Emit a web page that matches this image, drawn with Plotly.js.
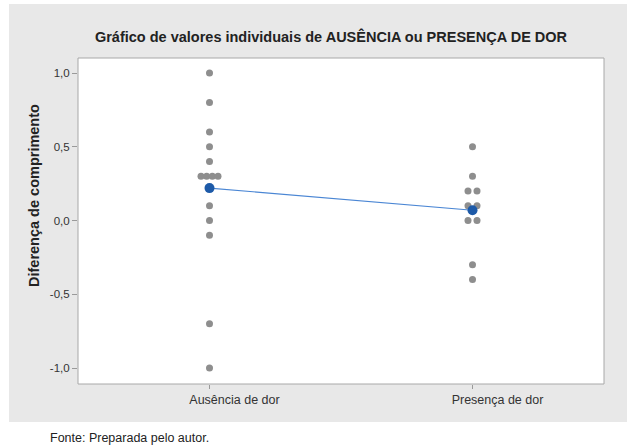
<!DOCTYPE html>
<html>
<head>
<meta charset="utf-8">
<script src="https://cdn.plot.ly/plotly-3.0.1.min.js"></script>
<style>html,body{margin:0;padding:0;background:#fff;}#chart{width:627px;height:448px;}</style>
</head>
<body>
<div id="chart"></div>
<script>
// ---- data ----
const categories = ["Ausência de dor", "Presença de dor"];
const ausenciaValues = [1.0, 0.8, 0.6, 0.5, 0.4, 0.3, 0.3, 0.3, 0.3, 0.1, 0.0, -0.1, -0.7, -1.0];
const presencaValues = [0.5, 0.3, 0.2, 0.2, 0.1, 0.1, 0.0, 0.0, -0.3, -0.4];
const meanValues = [0.22, 0.07];
const yTickVals = [-1.0, -0.5, 0.0, 0.5, 1.0];
const yTickText = ["-1,0", "-0,5", "0,0", "0,5", "1,0"];

// ---- layout constants ----
const W = 627, H = 448;
const M = {l: 78, r: 23, t: 58, b: 64};
const plotW = W - M.l - M.r, plotH = H - M.t - M.b;
const xRange = [-0.5, 1.5];
const pxPerUnit = plotW / (xRange[1] - xRange[0]);

// side-by-side placement of duplicated values (like the individual value plot)
function spread(values, center) {
  const xs = [], ys = [];
  const groups = {};
  values.forEach(v => { const k = v.toFixed(3); (groups[k] = groups[k] || []).push(v); });
  Object.keys(groups).forEach(k => {
    const g = groups[k], n = g.length;
    const sp = n > 1 ? Math.min(9, 17 / (n - 1)) : 0;
    g.forEach((v, i) => {
      xs.push(center + (i - (n - 1) / 2) * sp / pxPerUnit);
      ys.push(v);
    });
  });
  return {xs, ys};
}
const a = spread(ausenciaValues, 0);
const p = spread(presencaValues, 1);

const dotStyle = {color: "#8e8e8e", size: 7};
const traces = [
  {x: a.xs, y: a.ys, type: "scatter", mode: "markers", marker: dotStyle, hoverinfo: "y"},
  {x: p.xs, y: p.ys, type: "scatter", mode: "markers", marker: dotStyle, hoverinfo: "y"},
  {x: [0, 1], y: meanValues, type: "scatter", mode: "lines+markers",
   line: {color: "#4a86d4", width: 1.2},
   marker: {color: "#1d5aa8", size: 10}}
];

const fx = px => (px - M.l) / plotW;
const fy = py => (H - M.b - py) / plotH;

const layout = {
  width: W, height: H,
  margin: M,
  paper_bgcolor: "#ffffff",
  plot_bgcolor: "#ffffff",
  showlegend: false,
  font: {family: "Liberation Sans, Arial, sans-serif", color: "#333333", size: 11},
  title: {
    text: "<b>Gráfico de valores individuais de AUSÊNCIA ou PRESENÇA DE DOR</b>",
    font: {size: 14.5, color: "#222222", family: "Liberation Sans, Arial, sans-serif"},
    x: 331 / W, xanchor: "center",
    y: 1 - 37 / H, yanchor: "middle", xref: "container", yref: "container"
  },
  xaxis: {
    range: xRange, tickvals: [0, 1], ticktext: categories,
    showgrid: false, zeroline: false, showline: false,
    ticks: "outside", ticklen: 4, tickcolor: "#9a9a9a",
    ticklabelshift: 25,
    tickfont: {size: 12.5, color: "#333333"}, fixedrange: true
  },
  yaxis: {
    range: [-1.108, 1.102], tickvals: yTickVals, ticktext: yTickText,
    showgrid: false, zeroline: false, showline: false,
    ticks: "outside", ticklen: 5, tickcolor: "#9a9a9a",
    tickfont: {size: 11.5, color: "#333333"}, fixedrange: true
  },
  shapes: [
    {type: "rect", xref: "paper", yref: "paper", layer: "below",
     x0: fx(9), x1: fx(627), y0: fy(422), y1: fy(4),
     fillcolor: "#e8e8e8", line: {width: 0}},
    {type: "rect", xref: "paper", yref: "paper", layer: "below",
     x0: 0, x1: 1, y0: 0, y1: 1,
     fillcolor: "#ffffff", line: {color: "#a8a8a8", width: 1}}
  ],
  annotations: [
    {text: "<b>Diferença de comprimento</b>", textangle: -90,
     xref: "paper", yref: "paper", x: fx(34), y: fy(196),
     xanchor: "center", yanchor: "middle", showarrow: false,
     font: {size: 14.5, color: "#222222"}},
    {text: "Fonte: Preparada pelo autor.",
     xref: "paper", yref: "paper", x: fx(48), y: fy(438),
     xanchor: "left", yanchor: "middle", showarrow: false,
     font: {size: 12.5, color: "#222222"}}
  ]
};

Plotly.newPlot("chart", traces, layout, {displayModeBar: false, staticPlot: true});
</script>
</body>
</html>
